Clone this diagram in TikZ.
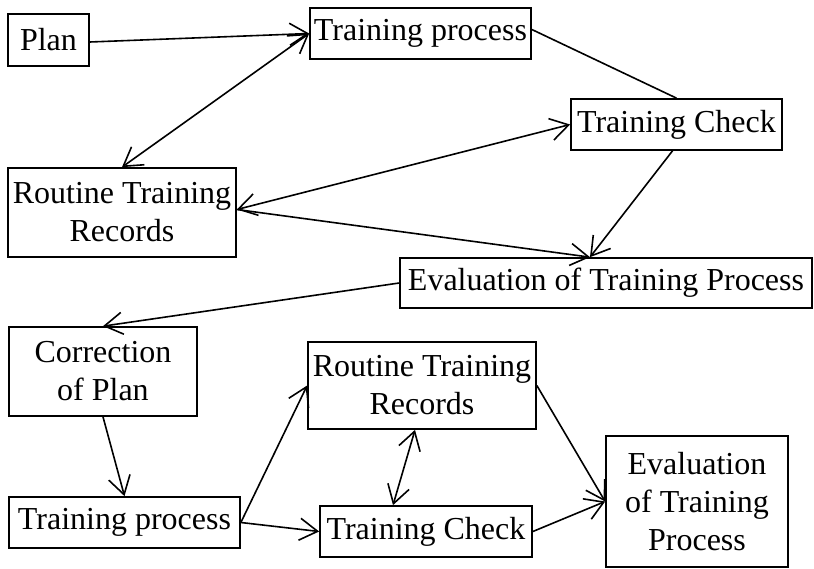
\documentclass[tikz,border=0pt]{standalone}
\usepackage{fontspec}
\setmainfont{Liberation Serif}
\usetikzlibrary{arrows.meta}
\begin{document}
\begin{tikzpicture}[x=1pt,y=-1pt,
  box/.style={draw,line width=1.7pt,inner sep=0pt,align=center,font=\fontsize{32}{38}\selectfont},
  conn/.style={line width=1.6pt},
  arr/.style={conn,-{Straight Barb[length=18pt,width=22pt]}},
  darr/.style={conn,{Straight Barb[length=18pt,width=22pt]}-{Straight Barb[length=18pt,width=22pt]}}]
\useasboundingbox (0,0) rectangle (814,568);
% top part
\node[box,minimum width=81pt,minimum height=52pt] (plan) at (48.5,40) {Plan};
\node[box,minimum width=221pt,minimum height=51pt] (tp1) at (420.5,33.5) {Training process};
\node[box,minimum width=228pt,minimum height=89pt] (rr1) at (122,212.5) {Routine Training\\Records};
\node[box,minimum width=211pt,minimum height=51pt] (tc1) at (676.5,124.5) {Training Check};
\node[box,minimum width=412pt,minimum height=50pt] (ev1) at (606,283) {Evaluation of Training Process};
% bottom part
\node[box,minimum width=188pt,minimum height=89pt] (cp) at (103,371.5) {Correction\\of Plan};
\node[box,minimum width=231pt,minimum height=51pt] (tp2) at (124.5,522.5) {Training process};
\node[box,minimum width=228pt,minimum height=87pt] (rr2) at (422,385.5) {Routine Training\\Records};
\node[box,minimum width=212pt,minimum height=51pt] (tc2) at (426,531.5) {Training Check};
\node[box,minimum width=182pt,minimum height=131pt] (ev2) at (697,501.5) {Evaluation\\of Training\\Process};
% connectors top
\draw[arr] ([yshift=-2pt]plan.east) -- (tp1.west);
\draw[darr] (tp1.west) -- (rr1.north);
\draw[conn] ([yshift=4pt]tp1.east) -- (tc1.north);
\draw[darr] ([yshift=3pt]rr1.east) -- (tc1.west);
\draw[arr] ([yshift=3pt]rr1.east) -- ([xshift=-16pt]ev1.north);
\draw[arr] ([xshift=-4pt]tc1.south) -- ([xshift=-16pt]ev1.north);
\draw[arr] (ev1.west) -- (cp.north);
% connectors bottom
\draw[arr] (cp.south) -- (tp2.north);
\draw[arr] (tp2.east) -- (rr2.west);
\draw[arr] (tp2.east) -- (tc2.west);
\draw[darr] ([xshift=-7pt]rr2.south) -- ([xshift=-33pt]tc2.north);
\draw[arr] (rr2.east) -- (ev2.west);
\draw[arr] (tc2.east) -- (ev2.west);
\end{tikzpicture}
\end{document}
